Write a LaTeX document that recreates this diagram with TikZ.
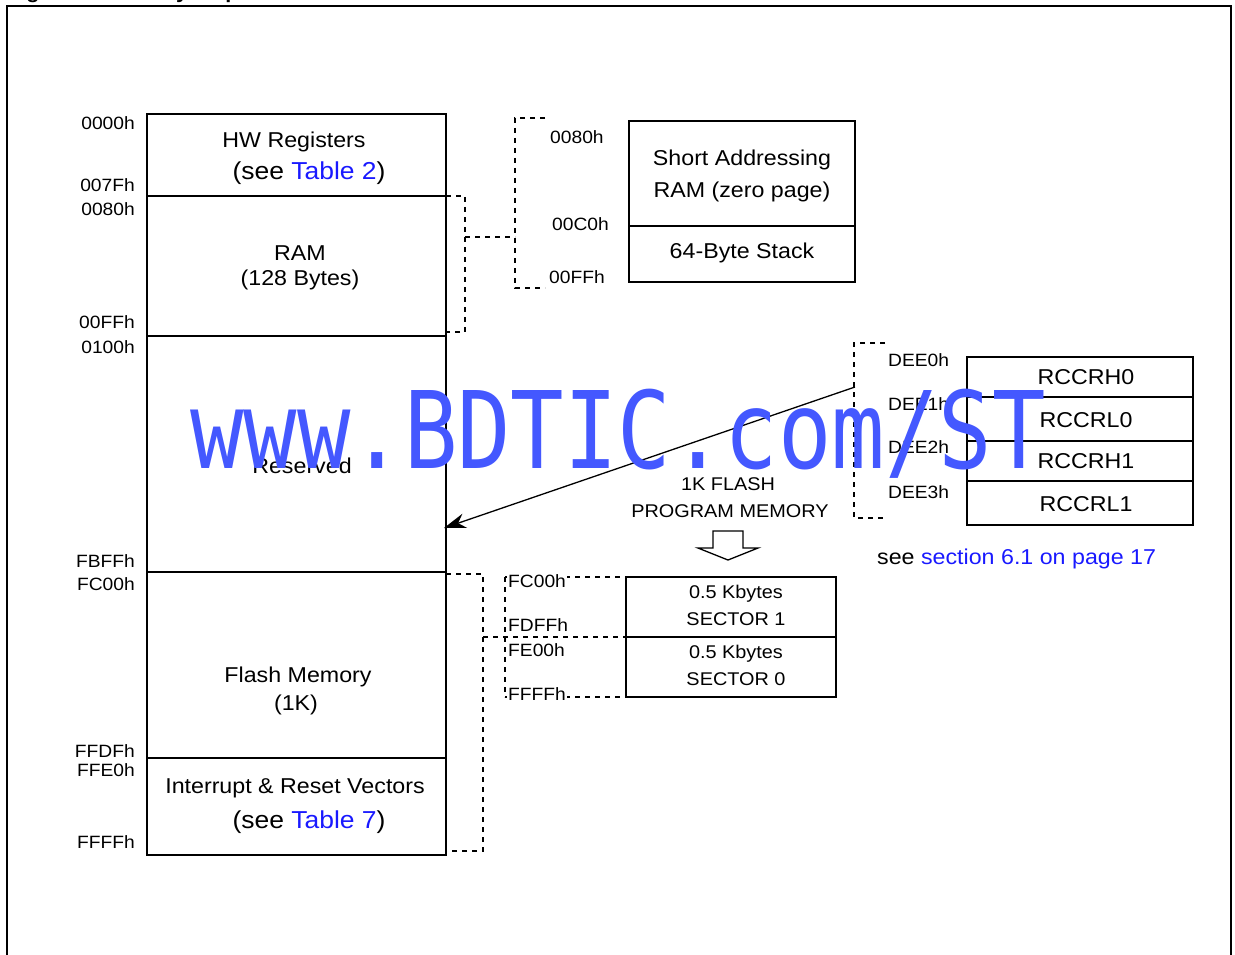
\documentclass[tikz,border=0pt]{standalone}
\usepackage{fontspec}
\setmainfont[FakeStretch=1.08]{Liberation Sans}
\newfontfamily\wmfont[FakeStretch=0.83]{DejaVu Sans Mono}
\usetikzlibrary{arrows.meta}
\definecolor{linkblue}{RGB}{25,25,255}
\definecolor{wmblue}{RGB}{68,88,255}
\begin{document}
\begin{tikzpicture}[x=1pt,y=-1pt,
  box/.style={draw, line width=1.8pt, inner sep=0pt, outer sep=0pt, anchor=north west},
  dsh/.style={line width=1.8pt, dash pattern=on 5pt off 5pt},
  lbl/.style={font=\fontsize{21.5}{24}\selectfont, anchor=base, inner sep=0pt},
  lblbig/.style={font=\fontsize{24.5}{28}\selectfont, anchor=base, inner sep=0pt},
  sml/.style={font=\fontsize{18.4}{20}\selectfont, anchor=base, inner sep=0pt},
  adr/.style={font=\fontsize{17.8}{20}\selectfont, anchor=base east, inner sep=0pt},
  adrl/.style={font=\fontsize{17.8}{20}\selectfont, anchor=base west, inner sep=0pt},
  reg/.style={font=\fontsize{21.5}{24}\selectfont, anchor=base, inner sep=0pt},
]
\useasboundingbox (0,0) rectangle (1235,955);
% title (cut off at top)
\node[font=\bfseries\fontsize{20}{22}\selectfont, anchor=base west, inner sep=0pt] (title) at (7,-1) {Figure 4. Memory map};
% outer frame
\draw[line width=2pt] (7,960) -- (7,6) -- (1231,6) -- (1231,960);

% main column
\node[box, minimum width=299pt, minimum height=82pt] (hw) at (147,114) {};
\node[box, minimum width=299pt, minimum height=140pt] (ram) at (147,196) {};
\node[box, minimum width=299pt, minimum height=236pt] (res) at (147,336) {};
\node[box, minimum width=299pt, minimum height=186pt] (fl) at (147,572) {};
\node[box, minimum width=299pt, minimum height=97pt] (vec) at (147,758) {};

\node[lbl] (t1) at (294,148) {HW Registers};
\node[lblbig] (t2) at (309,180) {(see {\color{linkblue}Table 2})};
\node[lbl] (t3) at (300,260) {RAM};
\node[lbl] (t4) at (300,285) {(128 Bytes)};
\node[lbl] (t5) at (302,473) {Reserved};
\node[lbl] (t6) at (298,682) {Flash Memory};
\node[lbl] (t7) at (296,710) {(1K)};
\node[lbl] (t8) at (295,793) {Interrupt \& Reset Vectors};
\node[lblbig] (t9) at (309,828) {(see {\color{linkblue}Table 7})};

% addresses left
\node[adr] (a1) at (135,130) {0000h};
\node[adr] (a2) at (135,192) {007Fh};
\node[adr] (a3) at (135,215) {0080h};
\node[adr] (a4) at (135,328) {00FFh};
\node[adr] (a5) at (135,353) {0100h};
\node[adr] (a6) at (135,567) {FBFFh};
\node[adr] (a7) at (135,590) {FC00h};
\node[adr] (a8) at (135,757) {FFDFh};
\node[adr] (a9) at (135,776) {FFE0h};
\node[adr] (a10) at (135,848) {FFFFh};

% RAM bracket
\draw[dsh] (446,196) -- (465,196) -- (465,332) -- (446,332);
\draw[dsh] (465,237) -- (515,237);
\draw[dsh] (545,118) -- (515,118) -- (515,288) -- (545,288);
\node[adrl] (b1) at (550,144) {0080h};
\node[adrl] (b2) at (552,230) {00C0h};
\node[adrl] (b3) at (549,283) {00FFh};

% short addressing box
\node[box, minimum width=226pt, minimum height=105pt] (sa) at (629,121) {};
\node[box, minimum width=226pt, minimum height=56pt] (st) at (629,226) {};
\node[lbl] (s1) at (742,166) {Short Addressing};
\node[lbl] (s2) at (742,197) {RAM (zero page)};
\node[lbl] (s3) at (742,258) {64-Byte Stack};

% flash bracket
\draw[dsh] (446,574) -- (483,574) -- (483,851) -- (446,851);
\draw[dsh] (483,637) -- (626,637);
\draw[dsh] (505,577) -- (505,697);
\draw[dsh] (505,577) -- (626,577);
\draw[dsh] (505,697) -- (626,697);

\node[box, minimum width=210pt, minimum height=60pt] (sec1) at (626,577) {};
\node[box, minimum width=210pt, minimum height=60pt] (sec0) at (626,637) {};
\node[sml] (k1) at (736,598) {0.5 Kbytes};
\node[sml] (k2) at (736,625) {SECTOR 1};
\node[sml] (k3) at (736,658) {0.5 Kbytes};
\node[sml] (k4) at (736,685) {SECTOR 0};

\node[adrl, fill=white, inner sep=1pt] (c1) at (507,587) {FC00h};
\node[adrl, fill=white, inner sep=1pt] (c2) at (507,631) {FDFFh};
\node[adrl, fill=white, inner sep=1pt] (c3) at (507,656) {FE00h};
\node[adrl, fill=white, inner sep=1pt] (c4) at (507,700) {FFFFh};

\node[sml] (f1) at (728,490) {1K FLASH};
\node[sml] (f2) at (730,517) {PROGRAM MEMORY};
\draw[line width=1.3pt] (713,531) -- (743,531) -- (743,548) -- (758,548) -- (728,560) -- (698,548) -- (713,548) -- cycle;

% RCCR
\draw[dsh] (885,343) -- (854,343) -- (854,518) -- (885,518);
\node[adrl] (d0) at (888,366) {DEE0h};
\node[adrl] (d1) at (888,410) {DEE1h};
\node[adrl] (d2) at (888,453) {DEE2h};
\node[adrl] (d3) at (888,498) {DEE3h};
\node[box, minimum width=226pt, minimum height=40pt] (r0) at (967,357) {};
\node[box, minimum width=226pt, minimum height=44pt] (r1) at (967,397) {};
\node[box, minimum width=226pt, minimum height=40pt] (r2) at (967,441) {};
\node[box, minimum width=226pt, minimum height=44pt] (r3) at (967,481) {};
\node[reg] (q0) at (1086,384) {RCCRH0};
\node[reg] (q1) at (1086,427) {RCCRL0};
\node[reg] (q2) at (1086,468) {RCCRH1};
\node[reg] (q3) at (1086,511) {RCCRL1};
\node[lbl, anchor=base west] (see) at (877,564) {see {\color{linkblue}section 6.1 on page 17}};

% arrow
\coordinate (as) at (855,387);
\coordinate (ae) at (444,528);
\draw[line width=1.3pt, -{Stealth[length=22pt,width=15pt]}] (as) -- (ae);

% watermark
\node[font=\wmfont\fontsize{107}{110}\selectfont, text=wmblue, anchor=base west, inner sep=0pt] (wm) at (190,468) {www.BDTIC.com/ST};
\end{tikzpicture}
\end{document}
